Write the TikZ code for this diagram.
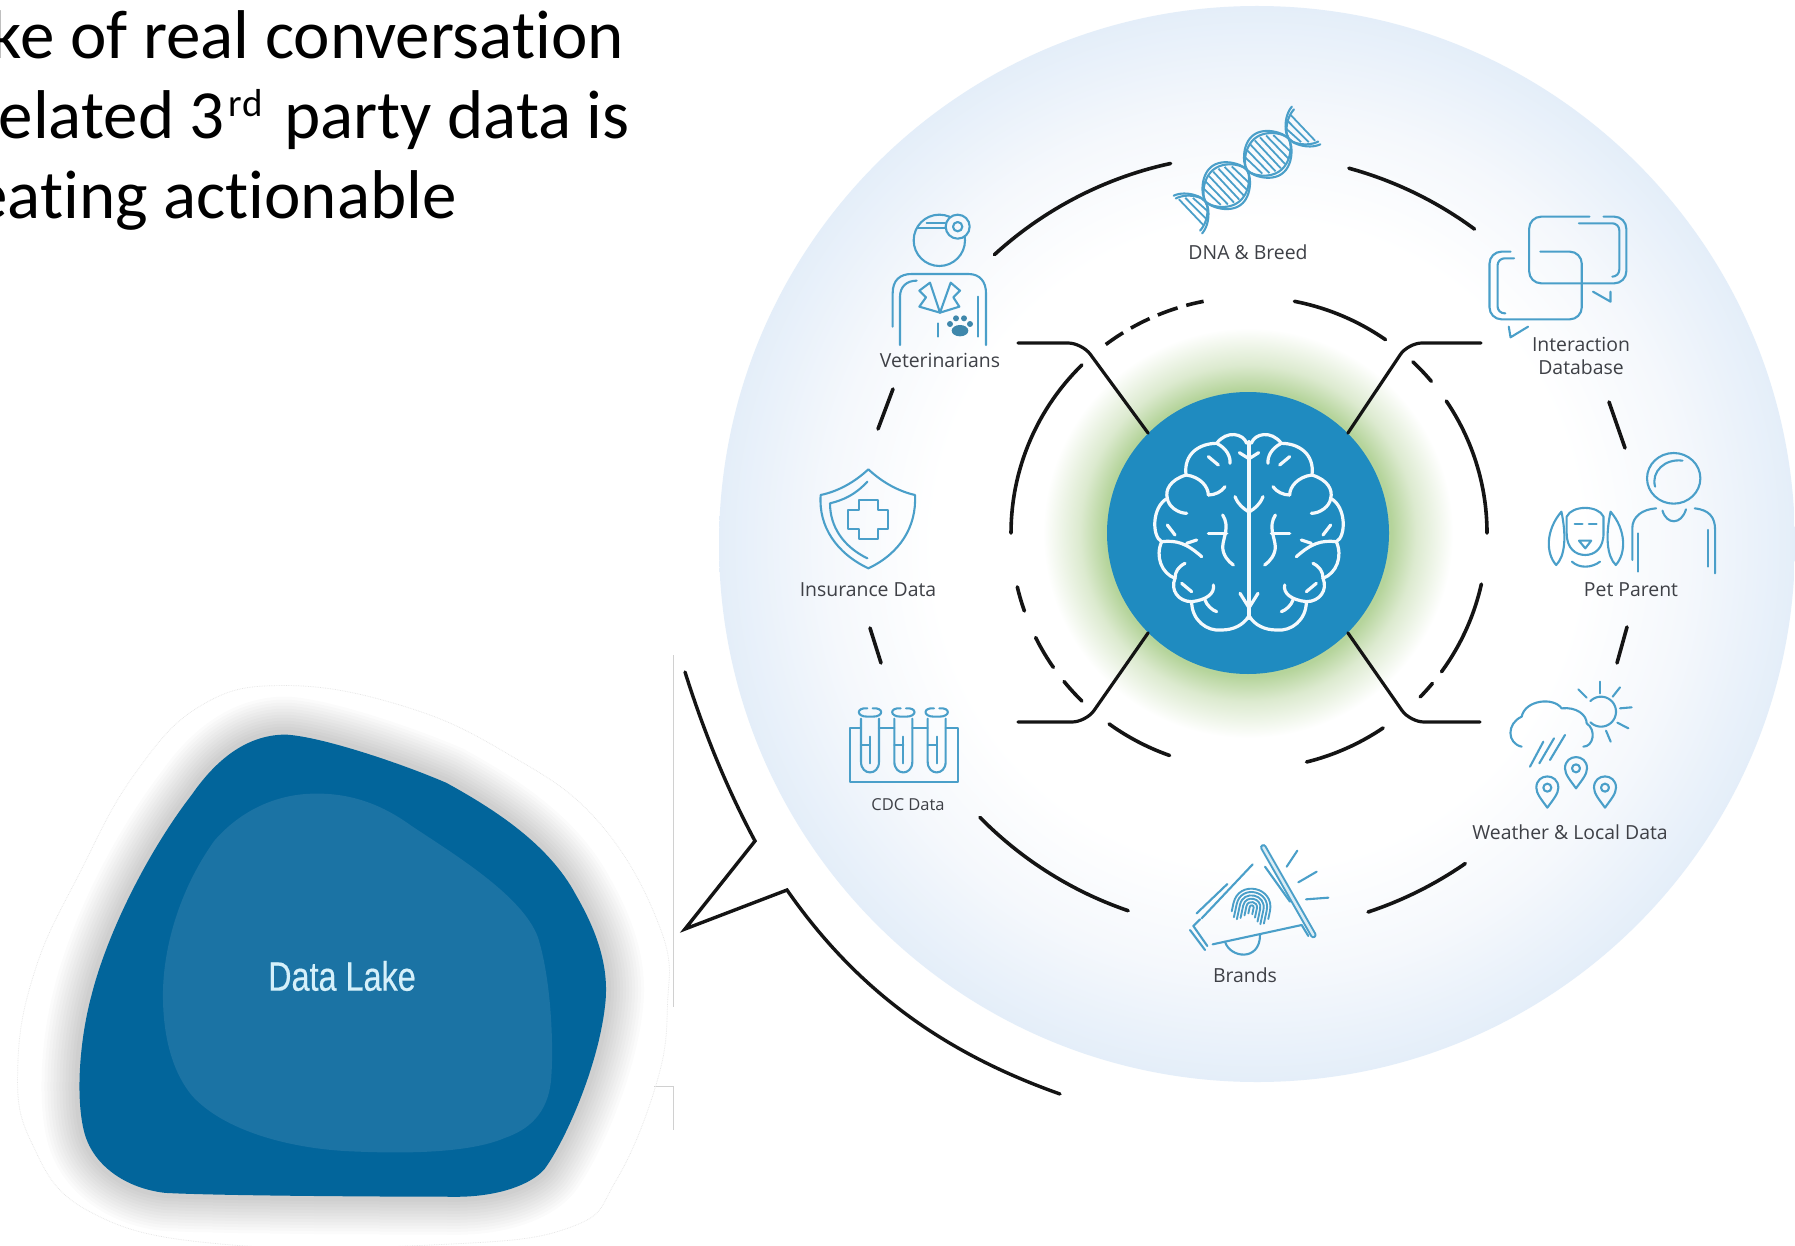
\documentclass[tikz,border=0pt]{standalone}
\usepackage{fontspec}
\setmainfont{Open Sans}
\newfontfamily\headfont[Ligatures=NoCommon]{Carlito}
\newfontfamily\lakefont[FakeBold=.4]{Liberation Sans}
\definecolor{edgeblue}{HTML}{E4EEF9}
\definecolor{midblue}{HTML}{F5F8FC}
\definecolor{brainblue}{HTML}{1F8BC0}
\definecolor{glowgreen}{HTML}{B5D49B}
\definecolor{glowmid}{HTML}{DCEACF}
\definecolor{iconblue}{HTML}{4A9FC9}
\definecolor{labelgrey}{HTML}{3E4046}
\definecolor{lakedark}{HTML}{02659B}
\definecolor{lakelight}{HTML}{1B73A4}
\definecolor{laketext}{HTML}{D5F0FA}
\definecolor{linegrey}{HTML}{D0D0D0}
\pgfdeclareradialshading{bigbg}{\pgfpointorigin}{color(0bp)=(white); color(15bp)=(white); color(20bp)=(midblue); color(25bp)=(edgeblue); color(50bp)=(edgeblue)}
\pgfdeclareradialshading{brainglow}{\pgfpointorigin}{color(0bp)=(glowgreen); color(17.5bp)=(glowgreen); color(20.5bp)=(glowmid); color(25bp)=(white); color(50bp)=(white)}
\tikzset{
  ring/.style={line width=3.6pt,black!92,line cap=round},
  conn/.style={line width=3.2pt,black!92,line cap=round,rounded corners=14pt},
  ptr/.style={line width=3.4pt,black!92,line join=miter,line cap=round},
  icon/.style={line width=2.1pt,iconblue,line cap=round,line join=round},
  brainline/.style={line width=3.2pt,white!95!brainblue,line cap=round,line join=round},
  lab/.style={inner sep=0pt,text=labelgrey,font=\fontsize{19.4}{23}\selectfont,align=center},
  headtext/.style={inner sep=0pt,anchor=base east,text=black,font=\headfont\fontsize{69}{80}\selectfont},
  greyline/.style={line width=1pt,linegrey}
}
\newcommand\outerseg[2]{\draw[ring] plot[domain=#1:#2,samples=30,variable=\t] ({1250+382*cos(\t)},{543-388*sin(\t)});}
\newcommand\innerseg[3][]{\draw[ring,#1] plot[domain=#2:#3,samples=30,variable=\t] ({1249+238*cos(\t)},{533-236*sin(\t)});}
\newcommand\blobpath{(640,245) .. controls (720,250) and (900,320) .. (1000,370) .. controls (1110,440) and (1230,530) .. (1290,660) .. controls (1345,770) and (1365,860) .. (1355,950) .. controls (1340,1100) and (1270,1290) .. (1220,1370) .. controls (1190,1410) and (1120,1440) .. (1030,1442) .. controls (900,1442) and (500,1440) .. (370,1432) .. controls (280,1420) and (210,1360) .. (190,1280) .. controls (170,1200) and (175,1050) .. (205,920) .. controls (240,760) and (330,550) .. (430,400) .. controls (490,300) and (560,245) .. (640,245) -- cycle}
\newcommand\pinmark[2]{\begin{scope}[shift={(#1,#2)}]
  \draw[icon] (0,60) .. controls (-18,35) and (-33,18) .. (-33,0) .. controls (-33,-45) and (33,-45) .. (33,0) .. controls (33,18) and (18,35) .. (0,60) -- cycle;
  \draw[icon] (0,0) circle (12);
\end{scope}}
\newcommand\brainhalf{%
  \draw[brainline] (500,190) .. controls (490,160) and (440,150) .. (410,190) .. controls (360,190) and (310,220) .. (318,285) .. controls (270,300) and (255,330) .. (262,355) .. controls (215,380) and (215,470) .. (245,485) .. controls (225,530) and (245,580) .. (285,595) .. controls (270,630) and (295,665) .. (335,665) .. controls (335,720) and (380,755) .. (425,750) .. controls (460,750) and (490,735) .. (505,710);
  \draw[brainline] (318,285) .. controls (360,290) and (385,320) .. (385,345);
  \draw[brainline] (385,345) .. controls (405,345) and (425,335) .. (435,320);
  \draw[brainline] (262,355) .. controls (265,380) and (295,400) .. (320,400);
  \draw[brainline] (245,485) .. controls (290,480) and (320,490) .. (365,530);
  \draw[brainline] (320,490) -- (350,480);
  \draw[brainline] (315,550) .. controls (295,560) and (285,575) .. (285,595);
  \draw[brainline] (335,665) .. controls (380,660) and (405,640) .. (400,615);
  \draw[brainline] (375,660) .. controls (380,675) and (395,690) .. (410,695);
  \draw[brainline] (428,405) .. controls (450,440) and (430,470) .. (428,500) .. controls (428,525) and (445,545) .. (460,555);
  \draw[brainline] (385,460) -- (440,460);
  \draw[brainline] (465,350) .. controls (475,375) and (490,385) .. (505,395);
  \draw[brainline] (410,190) .. controls (440,205) and (452,230) .. (450,250);
  \draw[brainline] (385,230) -- (415,255);
  \draw[brainline] (262,435) -- (285,465);
  \draw[brainline] (305,610) -- (335,635);
  \draw[brainline] (478,218) -- (505,235);
  \draw[brainline] (480,640) -- (505,680);
}
\begin{document}
\begin{tikzpicture}[x=1pt,y=-1pt]
\useasboundingbox (0,0) rectangle (1795,1246);
\fill[white] (0,0) rectangle (1795,1246);

% heading fragments
\node[headtext] (h1) at (624,59) {ke of real conversation};
\node[headtext] (h2) at (630,139) {elated 3\hspace{4pt}\raisebox{22pt}{\fontsize{39}{39}\selectfont rd}\hspace{6pt} party data is};
\node[headtext] (h3) at (457,219) {eating actionable};

% thin grey lines
\draw[greyline] (673,655) -- (673,1007);
\draw[greyline] (654,1086) -- (673,1086) -- (673,1130);

% data lake
\begin{scope}[shift={(0,640)},x=.44643pt,y=-.3861pt]
  \draw[line width=.7pt,black!10,densely dotted] plot[smooth cycle,tension=.7] coordinates {(640,118) (900,170) (1130,290) (1340,470) (1480,750) (1495,950) (1470,1150) (1380,1400) (1280,1520) (1000,1565) (500,1565) (200,1480) (70,1300) (40,1100) (80,850) (180,600) (300,350) (450,170)};
  \foreach \w in {76,70,...,10}{
    \draw[line width=\w pt,black,opacity=.016,line join=round] \blobpath;
  }
  \fill[lakedark] \blobpath;
  \fill[lakelight] (700,398) .. controls (790,395) and (860,430) .. (920,480) .. controls (1010,550) and (1170,660) .. (1205,770) .. controls (1235,880) and (1240,1050) .. (1235,1130) .. controls (1230,1230) and (1180,1270) .. (1130,1290) .. controls (1050,1330) and (900,1330) .. (800,1325) .. controls (650,1320) and (500,1270) .. (430,1180) .. controls (380,1110) and (365,1010) .. (365,920) .. controls (365,800) and (400,650) .. (480,520) .. controls (540,440) and (620,400) .. (700,398) -- cycle;
\end{scope}
\node[inner sep=0pt,text=laketext,xscale=.79,font=\lakefont\fontsize{41}{49}\selectfont] (lake) at (342,976) {Data Lake};

% large disc
\shade[shading=bigbg] (1257,544) circle (538);
% pointer
\coordinate (p1) at (685,672);
\coordinate (p2) at (755,841);
\coordinate (p3) at (685,929);
\coordinate (p4) at (787,890);
\coordinate (p5) at (1060,1094);
\draw[ptr] (p1) .. controls (708,745) and (733,800) .. (p2) -- (p3) -- (p4) .. controls (860,995) and (950,1055) .. (p5);

% glow and brain
\shade[shading=brainglow] (1248,533) circle (205);

% outer ring
\outerseg{132}{102}
\outerseg{75}{54}
\draw[ring] (1609,402) -- (1625,448);
\draw[ring] (1627,627) -- (1617,663);
\outerseg{-55.7}{-72}
\outerseg{-108.6}{-135}
\draw[ring] (870,628) -- (881,663);
\draw[ring] (893,389) -- (878,429);
% inner ring
\innerseg{180}{134.6}
\innerseg[dash pattern=on 21pt off 9pt,line cap=butt]{127}{101}
\innerseg{79}{55}
\innerseg{46.5}{40}
\innerseg{34}{0}
\innerseg{-12.5}{-36}
\innerseg{-39.6}{-44}
\innerseg{-55.7}{-76}
\innerseg{-109.5}{-126}
\innerseg{-134.6}{-141}
\innerseg{-145.3}{-153.7}
\innerseg{-160.7}{-166.8}

\node[circle,fill=brainblue,inner sep=0pt,minimum size=282pt] (brain) at (1248,533) {};
\begin{scope}[shift={(1080,380)},x=.33333pt,y=-.33333pt]
  \brainhalf
  \begin{scope}[shift={(1014,0)},xscale=-1]
    \brainhalf
  \end{scope}
  \draw[brainline] (507,185) -- (507,715);
\end{scope}

% connectors
\coordinate (vetend) at (1018,343);
\coordinate (intend) at (1481,343);
\coordinate (cdcend) at (1018,722);
\coordinate (wthend) at (1480,722);
\draw[conn] (brain.135) -- (1082,343) -- (vetend);
\draw[conn] (brain.45) -- (1408,343) -- (intend);
\draw[conn] (brain.225) -- (1086,722) -- (cdcend);
\draw[conn] (brain.-45) -- (1410,722) -- (wthend);

% veterinarian icon
\begin{scope}[shift={(780,100)},x=.33333pt,y=-.33333pt]
  \draw[icon] (478,421) circle (77);
  \draw[icon,fill=midblue] (533,380) circle (36);
  \draw[icon] (533,380) circle (14);
  \draw[icon] (415,385) -- (495,385);
  \draw[icon] (440,368) -- (495,368);
  \draw[icon] (338,680) -- (338,580) .. controls (338,540) and (360,522) .. (395,522) -- (565,522) .. controls (600,522) and (618,545) .. (618,580) -- (618,735);
  \draw[icon] (360,735) -- (360,590) .. controls (360,560) and (380,542) .. (410,542);
  \draw[icon] (595,590) -- (595,710);
  \draw[icon] (480,638) -- (450,548) -- (418,572) -- (438,592) -- (418,620) -- cycle;
  \draw[icon] (480,638) -- (512,548) -- (540,572) -- (520,592) -- (538,620) -- cycle;
  \draw[icon] (475,670) -- (475,710);
  \fill[iconblue!85!black] (540,692) ellipse (25 and 17);
  \foreach \a/\b in {510/672,528/655,552/655,570/672}{\fill[iconblue!85!black] (\a,\b) circle (9);}
\end{scope}

% DNA icon
\begin{scope}[shift={(1247,170)},rotate=37]
  \foreach \amp in {24,20.5}{
    \draw[icon] plot[domain=-74:74,samples=80,variable=\t] (\t,{\amp*sign(sin(\t*180/52))*pow(abs(sin(\t*180/52))+0.001,.6)});
    \draw[icon] plot[domain=-74:74,samples=80,variable=\t] (\t,{-\amp*sign(sin(\t*180/52))*pow(abs(sin(\t*180/52))+0.001,.6)});
  }
  \foreach \t in {-70,-64,-58,-44,-38,-32,-26,-20,-14,-8,8,14,20,26,32,38,44,58,64,70}{
    \pgfmathsetmacro\hh{19*pow(abs(sin(\t*180/52)),.6)}
    \draw[line width=1.8pt,iconblue] (\t-2,-\hh) -- (\t+2,\hh);
  }
\end{scope}

% interaction icon
\begin{scope}[shift={(1200,100)},x=.35088pt,y=-.33333pt]
  \draw[icon,rounded corners=12pt] (1110,350) -- (938,350) -- (938,550) -- (1215,550) -- (1215,350) -- (1150,350);
  \draw[icon,rounded corners=7pt] (1080,370) -- (1195,370) -- (1195,530) -- (1175,530);
  \draw[icon,rounded corners=12pt] (970,455) -- (1088,455) -- (1088,658) -- (825,658) -- (825,455) -- (885,455);
  \draw[icon,rounded corners=7pt] (895,475) -- (848,475) -- (848,640) -- (870,640);
  \draw[icon] (1120,575) -- (1170,605) -- (1170,575);
  \draw[icon] (935,680) -- (885,712) -- (880,680);

  % pet parent icon
  \draw[icon] (1350,1135) circle (76);
  \draw[icon] (1297,1160) .. controls (1285,1115) and (1325,1075) .. (1375,1082);
  \draw[icon] (1232,1380) -- (1232,1285) .. controls (1232,1250) and (1260,1228) .. (1300,1225);
  \draw[icon] (1318,1232) .. controls (1330,1275) and (1372,1275) .. (1385,1228);
  \draw[icon] (1410,1225) .. controls (1450,1230) and (1468,1250) .. (1468,1290) -- (1468,1420);
  \draw[icon] (1448,1290) -- (1448,1400);
  \draw[icon] (1248,1300) -- (1248,1415);
  \draw[icon] (1045,1300) -- (1045,1250) .. controls (1060,1215) and (1135,1215) .. (1150,1250) -- (1150,1300) .. controls (1150,1345) and (1125,1365) .. (1098,1365) .. controls (1070,1365) and (1045,1345) .. (1045,1300);
  \draw[icon] (1030,1235) .. controls (985,1290) and (985,1360) .. (1015,1395) .. controls (1040,1370) and (1045,1310) .. (1030,1235);
  \draw[icon] (1170,1235) .. controls (1215,1290) and (1215,1360) .. (1185,1395) .. controls (1160,1370) and (1155,1310) .. (1170,1235);
  \draw[icon] (1068,1272) -- (1090,1272);
  \draw[icon] (1108,1272) -- (1130,1272);
  \draw[icon] (1080,1322) -- (1115,1322) -- (1098,1345) -- cycle;
  \draw[icon] (1060,1385) .. controls (1080,1405) and (1115,1405) .. (1140,1385);
\end{scope}

% weather icon
\begin{scope}[shift={(1200,600)},x=.33333pt,y=-.33333pt]
  \draw[icon] (965,440) .. controls (920,430) and (920,370) .. (965,350) .. controls (975,300) and (1060,290) .. (1085,325) .. controls (1130,320) and (1160,345) .. (1160,370) .. controls (1190,390) and (1180,440) .. (1150,440);
  \draw[icon] plot[domain=-135:135,samples=30,variable=\t] ({1203+45*cos(\t)},{335-45*sin(\t)});
  \draw[icon] (1200,245) -- (1200,280);
  \draw[icon] (1135,268) -- (1160,293);
  \draw[icon] (1260,262) -- (1238,290);
  \draw[icon] (1295,322) -- (1260,325);
  \draw[icon] (1285,385) -- (1252,368);
  \draw[icon] (1232,425) -- (1218,392);
  \draw[icon] (1030,425) -- (990,500);
  \draw[icon] (1062,415) -- (1018,490);
  \draw[icon] (1095,405) -- (1050,480);
  \pinmark{1128}{505}
  \pinmark{1042}{563}
  \pinmark{1215}{563}
\end{scope}

% brands icon
\begin{scope}[shift={(1170,830)},x=.33333pt,y=-.33333pt]
  \draw[line width=6.5pt,iconblue,line cap=round] (280,52) -- (430,315);
  \draw[line width=2.5pt,white!80!iconblue,line cap=round] (280,52) -- (430,315);
  \draw[icon] (248,103) -- (95,265);
  \draw[icon] (172,162) -- (80,250);
  \draw[icon] (285,110) -- (360,215);
  \draw[icon] (60,300) -- (105,360);
  \draw[icon] (70,288) -- (112,348);
  \draw[icon] (70,288) -- (90,268);
  \draw[icon] (128,343) -- (395,285) -- (415,318);
  \draw[icon] (165,335) .. controls (180,385) and (270,395) .. (270,315);
  \draw[icon] (382,62) -- (350,110);
  \draw[icon] (440,125) -- (385,157);
  \draw[icon] (475,203) -- (408,208);
  \begin{scope}[shift={(245,232)},rotate=-12]
    \foreach \r/\e in {6/20,16/28,26/38,36/44,46/40,56/24}{
      \draw[line width=1.9pt,iconblue,line cap=round] (-\r,\e) -- (-\r,0) .. controls (-\r,-1.33*\r) and (\r,-1.33*\r) .. (\r,0) -- (\r,\e);
    }
  \end{scope}
\end{scope}

% insurance and CDC icons
\begin{scope}[shift={(780,450)},x=.33333pt,y=-.33333pt]
  \draw[icon] (265,58) .. controls (310,100) and (360,125) .. (405,135) .. controls (410,230) and (360,310) .. (265,355) .. controls (170,310) and (115,230) .. (122,135) .. controls (170,125) and (220,100) .. (265,58) -- cycle;
  \draw[icon] (262,95) .. controls (225,135) and (190,150) .. (150,160) .. controls (150,230) and (190,290) .. (262,325);
  \draw[icon] (237,150) -- (293,150) -- (293,180) -- (325,180) -- (325,236) -- (293,236) -- (293,268) -- (237,268) -- (237,236) -- (205,236) -- (205,180) -- (237,180) -- cycle;
  % rack
  \draw[icon] (243,835) -- (210,835) -- (210,995) -- (535,995) -- (535,835) -- (497,835);
  \draw[icon] (297,835) -- (343,835);
  \draw[icon] (397,835) -- (443,835);
  \foreach \c in {270,370,470}{
    \draw[icon] (\c-27,806) -- (\c-27,935) .. controls (\c-27,978) and (\c+27,978) .. (\c+27,935) -- (\c+27,806);
    \draw[icon] (\c-8,775) .. controls (\c-42,772) and (\c-42,800) .. (\c-8,800) -- (\c+8,800) .. controls (\c+42,800) and (\c+42,772) .. (\c+8,775);
    \draw[icon] (\c,860) -- (\c,940);
    \draw[icon] (\c-27,885) -- (\c,885);
  }
\end{scope}

% labels
\node[lab] (dna) at (1248,252) {DNA \& Breed};
\node[lab] (vet) at (940,360) {Veterinarians};
\node[lab] (int) at (1581,356) {Interaction\\Database};
\node[lab] (pet) at (1631,590) {Pet Parent};
\node[lab] (wth) at (1570,832) {Weather \& Local Data};
\node[lab] (brd) at (1245,975) {Brands};
\node[lab,font=\fontsize{16.5}{20}\selectfont] (cdc) at (908,805) {CDC Data};
\node[lab] (ins) at (868,590) {Insurance Data};
\end{tikzpicture}
\end{document}
